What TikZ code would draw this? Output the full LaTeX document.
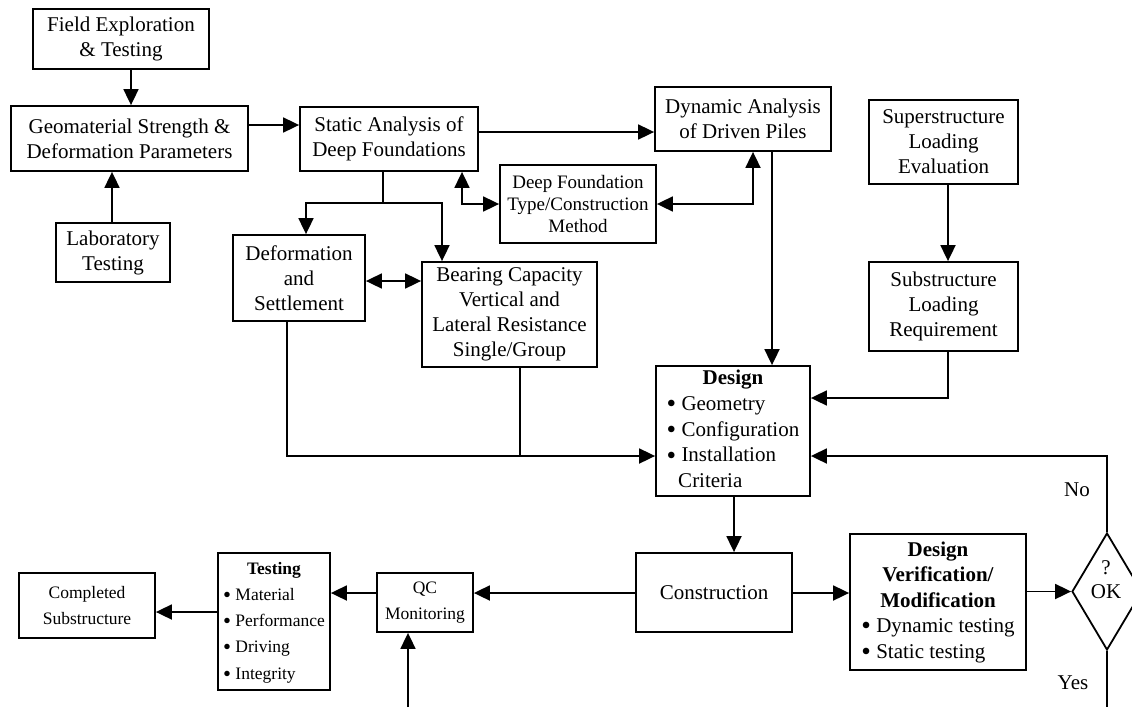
\documentclass[tikz,border=0pt]{standalone}
\usepackage{fontspec}
\setmainfont{Liberation Serif}
\usetikzlibrary{arrows.meta,shapes.geometric}
\newcommand{\bul}{\raisebox{-0.11em}{\scalebox{1.3}{\textbullet}}\ }
\begin{document}
\begin{tikzpicture}[x=1pt,y=-1pt,
  box/.style={draw, line width=1.8pt, inner sep=0pt, align=center, font=\fontsize{21}{25}\selectfont},
  sbox/.style={box, font=\fontsize{17.5}{25.5}\selectfont},
  conn/.style={line width=1.8pt},
  arr/.style={conn, -{Triangle[length=16pt,width=15pt]}},
  darr/.style={conn, {Triangle[length=16pt,width=15pt]}-{Triangle[length=16pt,width=15pt]}},
  lbl/.style={font=\fontsize{21}{25}\selectfont, inner sep=0pt}]
\useasboundingbox (0,0) rectangle (1132,707);
\clip (0,0) rectangle (1132,707);
\fill[white] (0,0) rectangle (1132,707);

% nodes
\node[box, minimum width=176pt, minimum height=60pt] (field) at (121,39) {Field Exploration\\\& Testing};
\node[box, minimum width=237pt, minimum height=65pt] (geo) at (129.5,138.5) {Geomaterial Strength \&\\Deformation Parameters};
\node[box, minimum width=114pt, minimum height=59pt] (lab) at (113,252.5) {Laboratory\\Testing};
\node[box, minimum width=178pt, minimum height=64pt] (static) at (389,139) {Static Analysis of\\Deep Foundations};
\node[box, minimum width=176pt, minimum height=64pt] (dyn) at (743,119) {Dynamic Analysis\\of Driven Piles};
\node[box, font=\fontsize{19}{22}\selectfont, minimum width=156pt, minimum height=78pt] (deep) at (578,204) {Deep Foundation\\Type/Construction\\Method};
\node[box, minimum width=149pt, minimum height=84pt] (super) at (943.5,142) {Superstructure\\Loading\\Evaluation};
\node[box, minimum width=149pt, minimum height=89pt] (sub) at (943.5,306.5) {Substructure\\Loading\\Requirement};
\node[box, minimum width=132pt, minimum height=86pt] (deform) at (299,278) {Deformation\\and\\Settlement};
\node[box, minimum width=175pt, minimum height=105pt] (bearing) at (509.5,314.5) {Bearing Capacity\\Vertical and\\Lateral Resistance\\Single/Group};
\node[box, font=\fontsize{21}{25.8}\selectfont, minimum width=154pt, minimum height=130pt] (design) at (733,431) {\begin{tabular}{@{}l@{}}\multicolumn{1}{@{}c@{}}{\textbf{Design}}\\ \bul Geometry\\ \bul Configuration\\ \bul Installation\\ \hspace{0.55em}Criteria\end{tabular}};
\node[box, minimum width=156pt, minimum height=79pt] (cons) at (714,592.5) {Construction};
\node[box, font=\fontsize{21}{25.5}\selectfont, minimum width=176pt, minimum height=136pt] (dv) at (938,602) {\begin{tabular}{@{}l@{}}\multicolumn{1}{@{}c@{}}{\textbf{Design}}\\ \multicolumn{1}{@{}c@{}}{\textbf{Verification/}}\\ \multicolumn{1}{@{}c@{}}{\textbf{Modification}}\\ \bul Dynamic testing\\ \bul Static testing\end{tabular}};
\node[draw, diamond, line width=1.8pt, minimum width=70pt, minimum height=117pt, inner sep=0pt] (ok) at (1107,591.5) {};
\node[lbl, align=center, font=\fontsize{21}{24}\selectfont] (oktxt) at (1106,580) {?\\OK};
\node[sbox, minimum width=136pt, minimum height=65pt] (comp) at (87,605.5) {Completed\\Substructure};
\node[sbox, font=\fontsize{17.5}{26.2}\selectfont, minimum width=112pt, minimum height=137pt] (test) at (274,621.5) {\begin{tabular}{@{}l@{}}\multicolumn{1}{@{}c@{}}{\textbf{Testing}}\\ \bul Material\\ \bul Performance\\ \bul Driving\\ \bul Integrity\end{tabular}};
\node[sbox, minimum width=96pt, minimum height=59pt] (qc) at (425,602.5) {QC\\Monitoring};
\node[lbl] (no) at (1077,490) {No};
\node[lbl] (yes) at (1073,683) {Yes};

% connectors
\draw[arr] (field.south -| 131,0) -- (geo.north -| 131,0);
\draw[arr] (lab.north -| 112,0) -- (geo.south -| 112,0);
\draw[arr] (geo.east |- 0,125) -- (static.west |- 0,125);
\draw[arr] (static.east |- 0,132) -- (dyn.west |- 0,132);
\coordinate (sp) at (383,203);
\draw[conn] (static.south -| sp) -- (sp);
\draw[arr] (sp) -| (deform.north -| 306,0);
\draw[arr] (sp) -| (bearing.north -| 442,0);
\draw[darr] (static.south -| 462,0) |- (deep.west);
\draw[darr] (deep.east) -| (dyn.south -| 753,0);
\draw[darr] (deform.east |- 0,281) -- (bearing.west |- 0,281);
\coordinate (jn) at (520,456);
\draw[arr] (deform.south -| 287,0) |- (design.west |- jn);
\draw[conn] (bearing.south -| jn) -- (jn);
\draw[arr] (dyn.south -| 772,0) -- (design.north -| 772,0);
\draw[arr] (super.south -| 948,0) -- (sub.north -| 948,0);
\draw[arr] (sub.south -| 948,0) |- (design.east |- 0,398);
\draw[arr] (design.south -| 734,0) -- (cons.north -| 734,0);
\draw[arr] (cons.east |- 0,593) -- (dv.west |- 0,593);
\draw[arr] (dv.east |- ok.west) -- (ok.west);
\draw[arr] (ok.north) |- (design.east |- jn);
\coordinate (yesend) at (1107,707);
\draw[conn] (ok.south) -- (yesend);
\draw[arr] (cons.west |- 0,593) -- (qc.east |- 0,593);
\draw[arr] (qc.west |- 0,593) -- (test.east |- 0,593);
\draw[arr] (test.west |- 0,612) -- (comp.east |- 0,612);
\coordinate (qcin) at (408,707);
\draw[arr] (qcin) -- (qc.south -| qcin);
\end{tikzpicture}
\end{document}
